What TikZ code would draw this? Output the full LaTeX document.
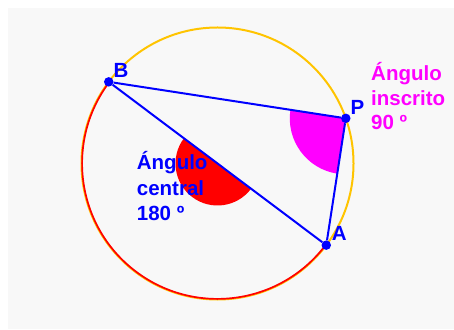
\documentclass[tikz,border=0pt]{standalone}
\usepackage{fontspec}
\setmainfont{Liberation Sans}
\usetikzlibrary{calc,positioning,backgrounds}
\definecolor{arcyellow}{RGB}{255,196,0}
\definecolor{paper}{RGB}{248,248,248}
\definecolor{pureblue}{RGB}{0,0,255}
\definecolor{purered}{RGB}{255,0,0}
\definecolor{puremagenta}{RGB}{255,0,255}

\begin{document}
\begin{tikzpicture}[x=1pt,y=1pt,font=\bfseries\fontsize{20.5}{25.5}\selectfont,
  dot/.style={circle,fill=pureblue,inner sep=0pt,minimum size=9.5pt},
  lbl/.style={inner sep=0pt,anchor=base west,align=left}]
\useasboundingbox (0,0) rectangle (454,329);
\coordinate (O) at (217.5,165.5);
\node[dot] (B) at ($(O)+(143.1:136)$) {};
\node[dot] (A) at ($(O)+(-36.9:136)$) {};
\node[dot] (P) at ($(O)+(19.4:136)$) {};
\node[lbl,pureblue] (labB) at (113.5,251.3) {B};
\node[lbl,pureblue] (labP) at (350.5,214) {P};
\node[lbl,pureblue] (labA) at (331.7,88.3) {A};
\node[lbl,pureblue] (central) at (136.7,108) {Ángulo\\central\\180 º};
\node[lbl,puremagenta,font=\bfseries\fontsize{20.5}{24.5}\selectfont] (inscrito) at (371,199) {Ángulo\\inscrito\\90 º};
\draw[pureblue,line width=2pt] (B) -- (P) -- (A) -- (B);
\begin{scope}[on background layer]
  \fill[paper] (8,0) rectangle (454,321);
  \fill[purered] (O) -- ++(143.1:42) arc[start angle=143.1,end angle=323.1,radius=42] -- cycle;
  \fill[puremagenta] (P.center) -- ++(171.25:56) arc[start angle=171.25,end angle=261.25,radius=56] -- cycle;
  \draw[arcyellow,line width=2pt] (O) circle[radius=136];
  \draw[purered,line width=1.7pt] ($(O)+(143.1:135.4)$) arc[start angle=143.1,end angle=323.1,radius=135.4];
\end{scope}
\end{tikzpicture}
\end{document}
